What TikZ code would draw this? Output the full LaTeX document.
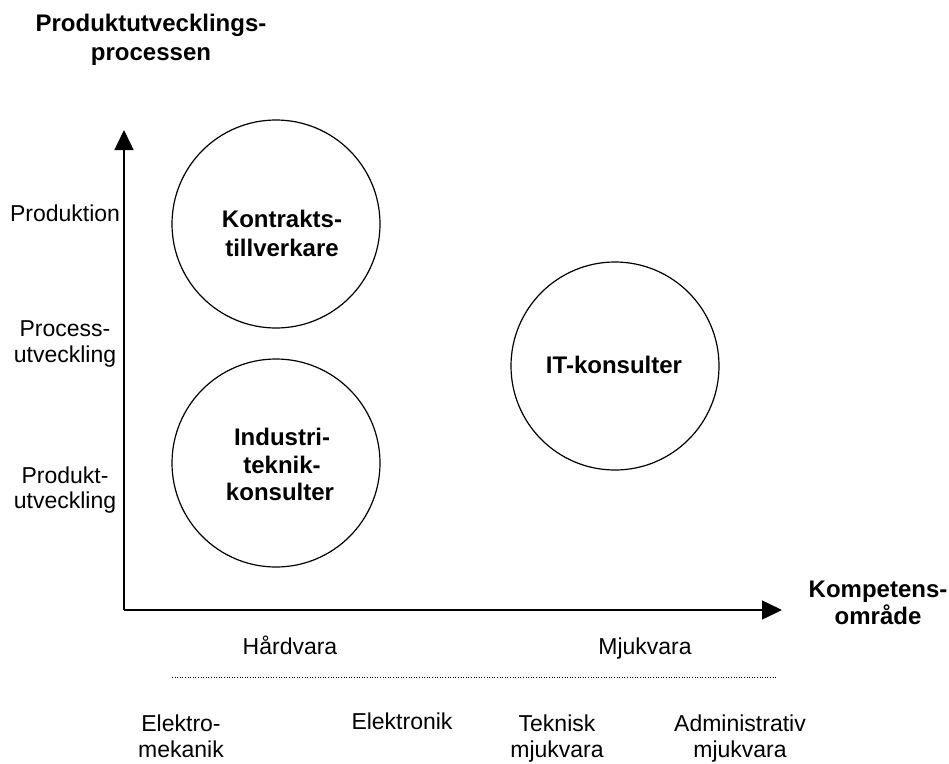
\documentclass[tikz,border=0pt]{standalone}
\usepackage{fontspec}
\setmainfont{Liberation Sans}
\usetikzlibrary{arrows.meta}
\begin{document}
\begin{tikzpicture}[x=1pt,y=-1pt,
  lbl/.style={font=\fontsize{23}{25}\selectfont, inner sep=0pt, anchor=base},
  head/.style={font=\fontsize{24}{29}\selectfont\bfseries, inner sep=0pt, anchor=base},
  field/.style={circle, draw, line width=1.2pt, minimum size=208pt, inner sep=0pt},
  axis/.style={line width=1.5pt, -{Triangle[length=20pt,width=19pt]}},
  sep/.style={line width=1pt, dash pattern=on 1pt off 1.6pt}]
\useasboundingbox (0,0) rectangle (949,763);

% axes
\coordinate (origin) at (124,610);
\coordinate (ytop) at (124,130);
\coordinate (xend) at (782,610);
\draw[axis] (origin) -- (ytop);
\draw[axis] (origin) -- (xend);

% axis titles
\node[head] (ytitleA) at (151,31) {Produktutvecklings-};
\node[head] (ytitleB) at (151,60) {processen};
\node[head] (xtitleA) at (878,597) {Kompetens-};
\node[head] (xtitleB) at (878,624) {område};

% vertical scale
\node[lbl] (prod) at (65,221) {Produktion};
\node[lbl] (procA) at (65,336) {Process-};
\node[lbl] (procB) at (65,362) {utveckling};
\node[lbl] (pdA) at (65,483) {Produkt-};
\node[lbl] (pdB) at (65,508) {utveckling};

% actor groups
\node[field] (kontrakt) at (276,224) {};
\node[field] (industri) at (276,463) {};
\node[field] (itkons) at (615,366) {};
\node[head] (kA) at (282,227) {Kontrakts-};
\node[head] (kB) at (282,256) {tillverkare};
\node[head] (iA) at (282,445) {Industri-};
\node[head] (iB) at (282,473) {teknik-};
\node[head] (iC) at (280,500) {konsulter};
\node[head] (itA) at (614,373) {IT-konsulter};

% horizontal scale
\node[lbl] (hard) at (290,654) {Hårdvara};
\node[lbl] (mjuk) at (645,654) {Mjukvara};
\coordinate (sepL) at (172,677);
\coordinate (sepR) at (776,677);
\draw[sep] (sepL) -- (sepR);

\node[lbl] (emA) at (181,731) {Elektro-};
\node[lbl] (emB) at (181,757) {mekanik};
\node[lbl] (el) at (402,729) {Elektronik};
\node[lbl] (tmA) at (557,731) {Teknisk};
\node[lbl] (tmB) at (557,757) {mjukvara};
\node[lbl] (amA) at (740,731) {Administrativ};
\node[lbl] (amB) at (740,757) {mjukvara};
\end{tikzpicture}
\end{document}
